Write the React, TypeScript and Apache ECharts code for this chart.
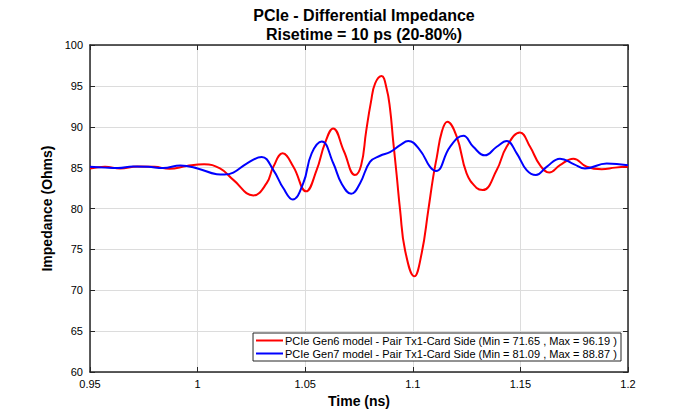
import React, { useEffect, useRef } from "react";
import * as echarts from "echarts";

const titleLines = ["PCIe - Differential Impedance", "Risetime = 10 ps (20-80%)"];
const xAxisName = "Time (ns)";
const yAxisName = "Impedance (Ohms)";
const seriesNames = [
  "PCIe Gen6 model - Pair Tx1-Card Side (Min = 71.65 , Max = 96.19 )",
  "PCIe Gen7 model - Pair Tx1-Card Side (Min = 81.09 , Max = 88.87 )",
];

const gen6Time = [0.95, 0.957, 0.964, 0.972, 0.98, 0.987, 0.995, 1.003, 1.0104, 1.0166, 1.0259, 1.0321, 1.0352, 1.0395, 1.0445, 1.0504, 1.0553, 1.0592, 1.063, 1.068, 1.0731, 1.076, 1.0783, 1.0806, 1.0825, 1.0855, 1.0878, 1.0894, 1.0909, 1.0925, 1.0941, 1.0964, 1.1007, 1.1041, 1.1072, 1.1095, 1.1111, 1.1135, 1.116, 1.1204, 1.125, 1.1297, 1.1325, 1.139, 1.1436, 1.1498, 1.1545, 1.1591, 1.1634, 1.1684, 1.1746, 1.1808, 1.1878, 1.194, 1.2];
const gen6Imp = [84.9, 85.1, 84.9, 85.15, 85.1, 84.85, 85.2, 85.4, 84.9, 83.5, 81.6, 83.1, 85.1, 86.75, 85.1, 82.1, 84.7, 88.0, 89.8, 87.0, 84.1, 85.3, 89.4, 93.1, 95.3, 96.2, 94.7, 92.25, 88.2, 84.1, 79.8, 74.9, 71.7, 74.5, 79.8, 83.9, 86.2, 89.4, 90.6, 88.8, 84.3, 82.5, 82.25, 84.7, 87.55, 89.3, 87.55, 85.3, 84.4, 85.3, 86.1, 85.1, 84.8, 85.0, 85.1];

const gen7Time = [0.95, 0.957, 0.963, 0.97, 0.977, 0.984, 0.992, 1.0, 1.0089, 1.0125, 1.0166, 1.0228, 1.0298, 1.0352, 1.0398, 1.0442, 1.0491, 1.053, 1.0577, 1.0631, 1.067, 1.0714, 1.0755, 1.0801, 1.0848, 1.0894, 1.0941, 1.0979, 1.1033, 1.108, 1.1108, 1.1173, 1.1235, 1.1281, 1.1335, 1.139, 1.1436, 1.1483, 1.1529, 1.1572, 1.1622, 1.1684, 1.175, 1.18, 1.1901, 1.2];
const gen7Imp = [85.1, 85.0, 84.95, 85.15, 85.1, 84.95, 85.25, 84.9, 84.2, 84.15, 84.4, 85.5, 86.3, 84.7, 82.5, 81.1, 83.1, 86.75, 88.2, 85.5, 83.0, 81.8, 83.1, 85.7, 86.45, 86.9, 87.75, 88.25, 87.15, 85.1, 84.6, 87.55, 88.9, 87.55, 86.5, 87.55, 88.25, 86.75, 84.7, 84.1, 85.1, 86.1, 85.4, 84.9, 85.5, 85.3];

const xMin = 0.95, xMax = 1.2, xStep = 0.05;
const yMin = 60, yMax = 100, yStep = 5;

const FONT = "'Liberation Sans', Arial, sans-serif";

export default function App() {
  const ref = useRef<HTMLDivElement>(null);
  useEffect(() => {
    if (!ref.current) return;
    const chart = echarts.init(ref.current, null, { renderer: "svg" });
    const pair = (t: number[], v: number[]) => t.map((x, i) => [x, v[i]]);
    const axisLineStyle = { color: "#262626", width: 1.5 };
    const tickStyle = { show: true, inside: true, length: 5, lineStyle: { color: "#262626" } };
    const baseX = { type: "value" as const, min: xMin, max: xMax, interval: xStep };
    const baseY = { type: "value" as const, min: yMin, max: yMax, interval: yStep };
    chart.setOption({
      animation: false,
      textStyle: { fontFamily: FONT },
      title: {
        text: titleLines.join("\n"),
        left: 359,
        top: 1,
        textAlign: "center",
        textStyle: { fontFamily: FONT, fontSize: 16, fontWeight: "bold", color: "#000", lineHeight: 19 },
      },
      grid: { left: 90, right: 67, top: 45, bottom: 46 },
      legend: {
        orient: "vertical",
        right: 695 - 621,
        top: 333,
        itemGap: 2,
        itemWidth: 27,
        itemHeight: 2,
        icon: "rect",
        padding: [2, 4, 2, 3],
        borderColor: "#262626",
        borderWidth: 1,
        backgroundColor: "#fff",
        textStyle: { fontFamily: FONT, fontSize: 11, color: "#000", padding: [0, 0, 0, -3] },
        data: seriesNames,
      },
      xAxis: [
        {
          ...baseX,
          position: "bottom",
          name: xAxisName,
          nameLocation: "middle",
          nameGap: 19,
          nameTextStyle: { fontFamily: FONT, fontSize: 14, fontWeight: "bold", color: "#000" },
          axisLine: { show: true, lineStyle: axisLineStyle },
          axisTick: tickStyle,
          axisLabel: { fontFamily: FONT, fontSize: 11, color: "#000", margin: 6 },
          splitLine: { show: true, lineStyle: { color: "#dcdcdc", width: 1 } },
        },
        {
          ...baseX,
          position: "top",
          axisLine: { show: true, lineStyle: axisLineStyle },
          axisTick: tickStyle,
          axisLabel: { show: false },
          splitLine: { show: false },
        },
      ],
      yAxis: [
        {
          ...baseY,
          position: "left",
          name: yAxisName,
          nameLocation: "middle",
          nameGap: 32,
          nameRotate: 90,
          nameTextStyle: { fontFamily: FONT, fontSize: 14, fontWeight: "bold", color: "#000" },
          axisLine: { show: true, lineStyle: axisLineStyle },
          axisTick: tickStyle,
          axisLabel: { fontFamily: FONT, fontSize: 11, color: "#000", margin: 7 },
          splitLine: { show: true, lineStyle: { color: "#dcdcdc", width: 1 } },
        },
        {
          ...baseY,
          position: "right",
          axisLine: { show: true, lineStyle: axisLineStyle },
          axisTick: tickStyle,
          axisLabel: { show: false },
          splitLine: { show: false },
        },
      ],
      series: [
        {
          name: seriesNames[0],
          type: "line",
          data: pair(gen6Time, gen6Imp),
          smooth: 0.45,
          showSymbol: false,
          symbol: "none",
          color: "#ff0000",
          lineStyle: { color: "#ff0000", width: 2 },
          z: 2,
        },
        {
          name: seriesNames[1],
          type: "line",
          data: pair(gen7Time, gen7Imp),
          smooth: 0.45,
          showSymbol: false,
          symbol: "none",
          color: "#0000ff",
          lineStyle: { color: "#0000ff", width: 2 },
          z: 3,
        },
      ],
    });
    return () => chart.dispose();
  }, []);
  return (
    <div
      ref={ref}
      style={{ position: "fixed", left: 0, top: 0, width: 695, height: 418, background: "#fff" }}
    />
  );
}
